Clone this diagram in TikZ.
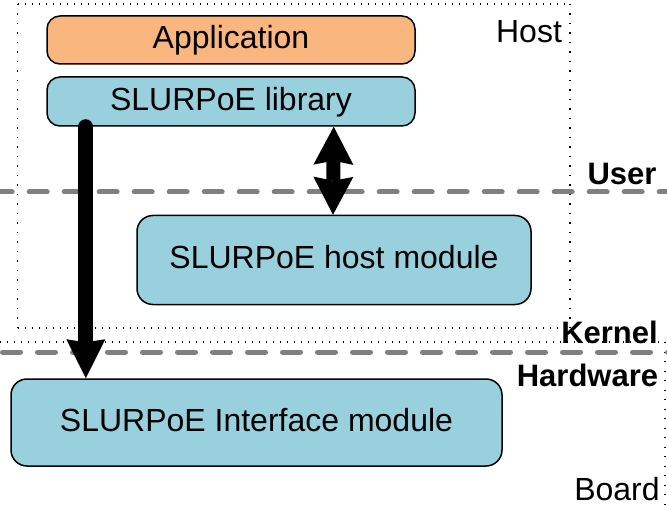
\documentclass[tikz,border=0pt]{standalone}
\usepackage{fontspec}
\setmainfont{Liberation Sans}
\usetikzlibrary{arrows.meta}
\definecolor{apporange}{RGB}{249,182,127}
\definecolor{modblue}{RGB}{153,208,222}
\definecolor{layergray}{RGB}{128,128,128}
\newcommand{\labelsize}{\fontsize{32}{37}\selectfont}
\newcommand{\layersize}{\fontsize{31}{36}\selectfont}
\tikzset{
  box/.style={draw=black, line width=1.5pt, rounded corners=#1, inner sep=0pt,
              text height=21pt, text depth=3pt, align=center},
  box/.default=13pt,
  hdots/.style={line width=1.4pt, dash pattern=on 1.2pt off 5.8pt},
  vdots/.style={line width=1.4pt, dash pattern=on 1.2pt off 8.3pt},
  layerline/.style={draw=layergray, line width=5pt, line cap=round, dash pattern=on 18pt off 17pt},
  layerlabel/.style={anchor=base, inner sep=0pt, font=\layersize\bfseries},
  zonelabel/.style={anchor=base, inner sep=0pt},
  bigarrow/.style={line width=15pt, line cap=round,
    -{Stealth[length=39pt, width=39pt, inset=3pt, line width=0pt]}},
  dblarrow/.style={line width=14pt,
    {Stealth[length=38pt, width=40pt, inset=4pt, line width=0pt]}-{Stealth[length=38pt, width=40pt, inset=4pt, line width=0pt]}}
}
\begin{document}
\begin{tikzpicture}[x=1pt, y=-1pt, font=\labelsize]
\useasboundingbox (0,0) rectangle (667,505);

% host zone (dotted frame)
\draw[hdots] (17.5,4) -- (570,4);
\draw[hdots] (17.5,328) -- (570,328);
\draw[vdots] (17.5,4) -- (17.5,328);
\draw[vdots] (570,4) -- (570,328);

% board zone (dotted frame, open to the left and bottom)
\draw[hdots] (0,342) -- (665,342);
\draw[vdots] (665,342) -- (665,510);

% user/kernel and kernel/hardware boundaries
\draw[layerline, dash phase=5.8pt] (0,192) -- (672,192);
\draw[layerline, dash phase=32.5pt] (0,352) -- (672,352);

% software and hardware blocks
\node[box, fill=apporange, minimum width=368pt, minimum height=48pt] (app) at (231,40) {Application};
\node[box, fill=modblue, minimum width=368pt, minimum height=49pt] (lib) at (231,101.5) {SLURPoE library};
\node[box=16pt, fill=modblue, minimum width=394pt, minimum height=89pt] (hostmod) at (334,260) {SLURPoE host module};
\node[box=16pt, fill=modblue, minimum width=491pt, minimum height=87pt] (iface) at (256.5,422.5) {SLURPoE Interface module};

% data paths
\draw[bigarrow] ([xshift=39.5pt]lib.south west) -- ([xshift=75.5pt]iface.north west);
\draw[dblarrow] ([xshift=-82pt]lib.south east) -- ([xshift=-1pt]hostmod.north);

% zone and layer labels
\node[zonelabel] (lhost) at (529,43) {Host};
\node[layerlabel] (luser) at (622,185) {User};
\node[layerlabel] (lkernel) at (609.5,343) {Kernel};
\node[layerlabel] (lhw) at (587.5,386) {Hardware};
\node[zonelabel] (lboard) at (617,500) {Board};
\end{tikzpicture}
\end{document}
